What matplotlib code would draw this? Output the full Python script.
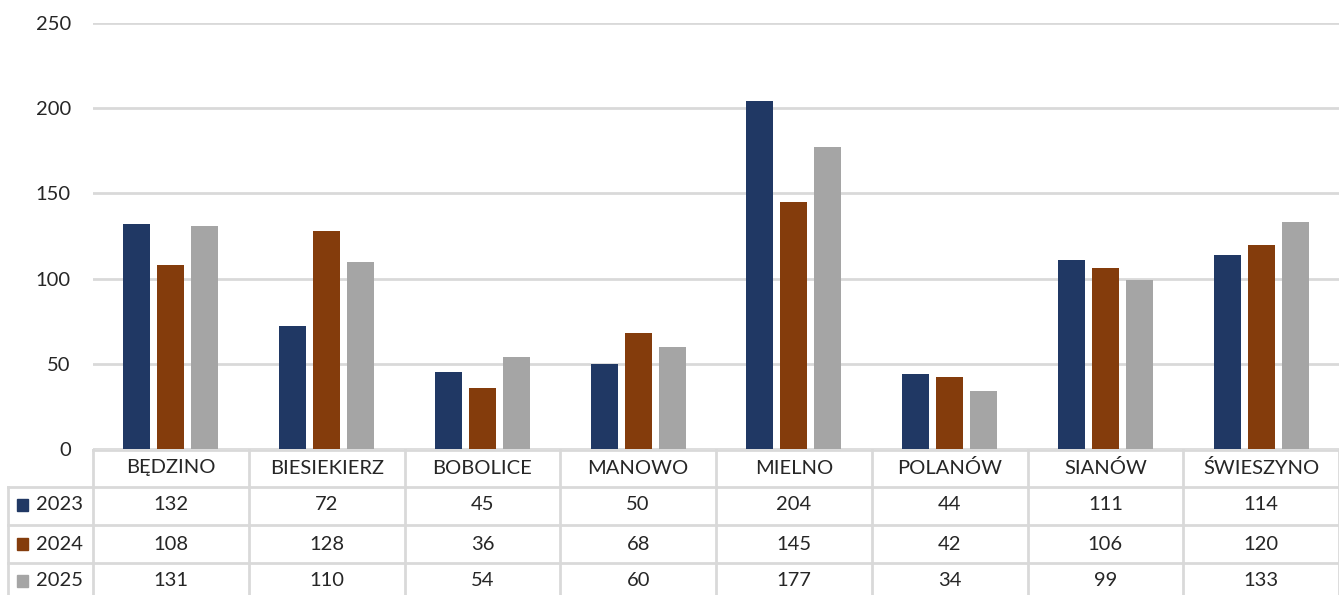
import matplotlib
matplotlib.use("Agg")
import matplotlib.pyplot as plt
from matplotlib.transforms import blended_transform_factory
from matplotlib.lines import Line2D
from matplotlib.patches import Rectangle
import numpy as np

categories = ["BĘDZINO", "BIESIEKIERZ", "BOBOLICE", "MANOWO", "MIELNO", "POLANÓW", "SIANÓW", "ŚWIESZYNO"]
series_names = ["2023", "2024", "2025"]
v2023 = [132, 72, 45, 50, 204, 44, 111, 114]
v2024 = [108, 128, 36, 68, 145, 42, 106, 120]
v2025 = [131, 110, 54, 60, 177, 34, 99, 133]
yticks = [0, 50, 100, 150, 200, 250]

colors = ["#203864", "#843C0C", "#A5A5A5"]
grid_c = "#D9D9D9"
text_c = "#262626"
fs = 14.5

plt.rcParams['font.family'] = ['Lato', 'DejaVu Sans']

W, H = 1339, 595
fig = plt.figure(figsize=(W/100, H/100), dpi=100)
x0, x1 = 93, 1339
ytop, ybot = 23, 449
ax = fig.add_axes([x0/W, 1 - ybot/H, (x1 - x0)/W, (ybot - ytop)/H])

n = len(categories)
x = np.arange(n)
bw = 0.173
sp = 0.218
for i, vals in enumerate([v2023, v2024, v2025]):
    ax.bar(x + (i - 1) * sp, vals, width=bw, color=colors[i], zorder=3)

ax.set_xlim(-0.5, n - 0.5)
ax.set_ylim(0, 250)
ax.set_yticks(yticks)
ax.yaxis.grid(True, color=grid_c, linewidth=2)
ax.set_axisbelow(True)
for s in ax.spines.values():
    s.set_visible(False)
ax.tick_params(axis='y', length=0, labelsize=fs, labelcolor=text_c, pad=16)
ax.tick_params(axis='x', length=0, labelbottom=False)

# table
def fy(py):
    return 1 - py / H
def fx(px):
    return px / W

tr = blended_transform_factory(ax.transData, fig.transFigure)
row_lines = [450, 487, 525, 563]
fig.add_artist(Line2D([fx(x0), fx(x1)], [fy(450), fy(450)], color=grid_c, lw=2))
for py in row_lines[1:]:
    fig.add_artist(Line2D([fx(8), fx(x1)], [fy(py), fy(py)], color=grid_c, lw=2))
for b in np.arange(n + 1) - 0.5:
    fig.add_artist(Line2D([b, b], [fy(450), fy(600)], color=grid_c, lw=2, transform=tr))
fig.add_artist(Line2D([fx(8), fx(8)], [fy(487), fy(600)], color=grid_c, lw=2))

for i, c in enumerate(categories):
    fig.text(i, fy(468), c, transform=tr, ha='center', va='center', fontsize=fs, color=text_c)
row_centers = [505, 544, 581]
for r, (name, vals) in enumerate(zip(series_names, [v2023, v2024, v2025])):
    yc = row_centers[r]
    fig.add_artist(Rectangle((fx(17), fy(yc + 6)), 11/W, 12/H, color=colors[r], transform=fig.transFigure))
    fig.text(fx(36), fy(yc), name, ha='left', va='center', fontsize=fs, color=text_c)
    for i, v in enumerate(vals):
        fig.text(i, fy(yc), str(v), transform=tr, ha='center', va='center', fontsize=fs, color=text_c)

fig.savefig("out.png", dpi=100)
